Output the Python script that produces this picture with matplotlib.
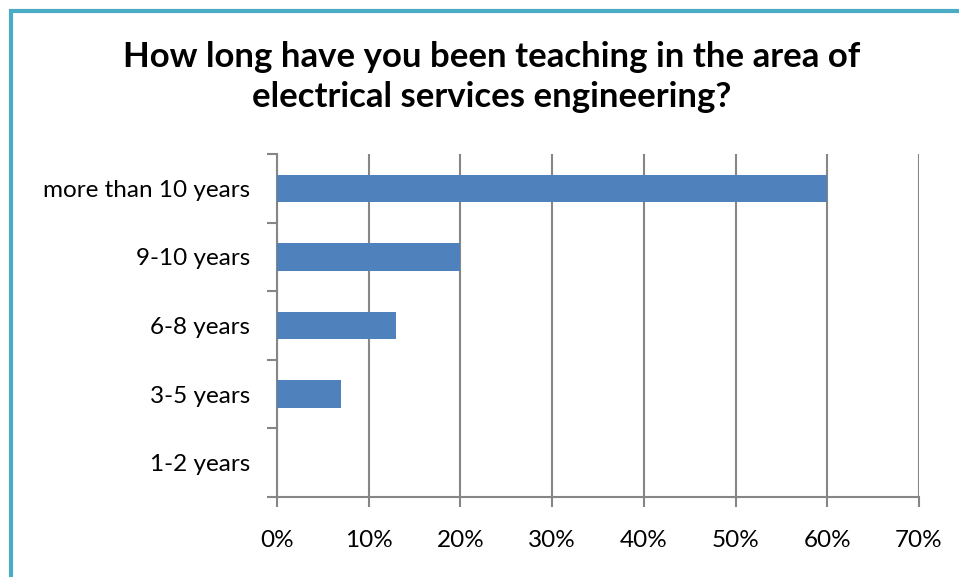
import matplotlib
matplotlib.use("Agg")
import matplotlib.pyplot as plt
from matplotlib.patches import Rectangle
from matplotlib.ticker import FuncFormatter

categories = ["more than 10 years", "9-10 years", "6-8 years", "3-5 years", "1-2 years"]
shares = [0.60, 0.20, 0.13, 0.07, 0.0]
x_ticks = [0.0, 0.1, 0.2, 0.3, 0.4, 0.5, 0.6, 0.7]
title = "How long have you been teaching in the area of\nelectrical services engineering?"

plt.rcParams["font.family"] = ["Lato", "DejaVu Sans"]

W, H = 959, 577
fig = plt.figure(figsize=(W / 100, H / 100), dpi=100)
fig.patch.set_facecolor("white")

# frame around the chart area (left and top visible)
fig.patches.append(Rectangle((11 / W, -0.2), 1.5, 1.2 - 11 / H,
                             transform=fig.transFigure, fill=False,
                             edgecolor="#4BACC6", linewidth=3.0, zorder=0))

ax = fig.add_axes([277 / W, 80 / H, 642 / W, 343 / H])

ypos = list(range(len(categories)))
ax.barh(ypos, shares, height=0.4, color="#4F81BD", zorder=3)
ax.set_ylim(len(categories) - 0.5, -0.5)
ax.set_xlim(0, 0.7)

ax.set_xticks(x_ticks)
ax.xaxis.set_major_formatter(FuncFormatter(lambda v, _: f"{round(v * 100)}%"))
ax.set_yticks(ypos)
ax.set_yticklabels(categories)
ax.set_yticks([i - 0.5 for i in range(len(categories) + 1)], minor=True)

gray = "#868686"
ax.grid(axis="x", color=gray, linewidth=1.5, zorder=0)
for side in ("top", "right"):
    ax.spines[side].set_visible(False)
for side in ("left", "bottom"):
    ax.spines[side].set_color(gray)
    ax.spines[side].set_linewidth(1.5)

ax.tick_params(axis="y", which="major", length=0, pad=19.5, labelsize=17.5)
ax.tick_params(axis="y", which="minor", length=7, width=1.5, color=gray)
ax.tick_params(axis="x", length=7, width=1.5, color=gray, pad=17, labelsize=17.5)

fig.text(492 / W, 1 - 77 / H, title, ha="center", va="center",
         fontsize=25, fontweight="bold", linespacing=1.3)

fig.savefig("out.png", dpi=100, facecolor="white")
